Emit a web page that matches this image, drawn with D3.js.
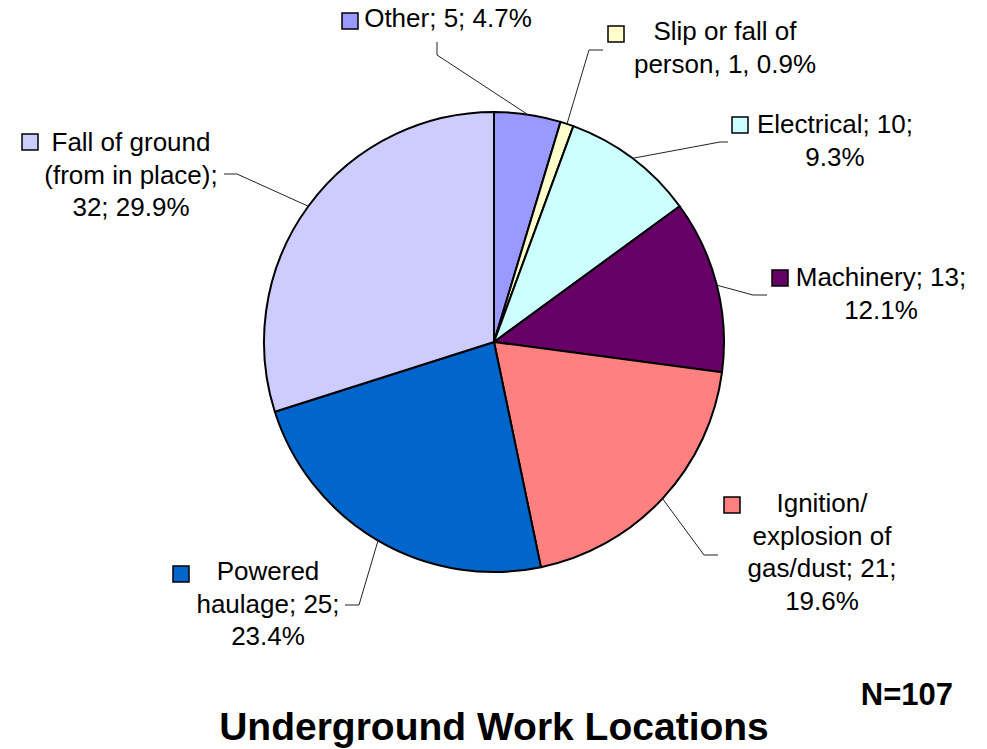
<!DOCTYPE html>
<html>
<head>
<meta charset="utf-8">
<script src="https://cdn.jsdelivr.net/npm/d3@7"></script>
<style>
  body { margin: 0; background: #fff; }
  text { font-family: "Liberation Sans", Arial, sans-serif; fill: #000; }
</style>
</head>
<body>
<script>
//data of the chart
var categories = ["Other", "Slip or fall of person", "Electrical", "Machinery",
    "Ignition/ explosion of gas/dust", "Powered haulage", "Fall of ground (from in place)"];
var counts = [5, 1, 10, 13, 21, 25, 32];
var colors = ["#9999FF", "#FFFFCC", "#CCFFFF", "#660066", "#FF8080", "#0066CC", "#CCCCFF"];
var labelLines = [
    ["Other; 5; 4.7%"],
    ["Slip or fall of", "person, 1, 0.9%"],
    ["Electrical; 10;", "9.3%"],
    ["Machinery; 13;", "12.1%"],
    ["Ignition/", "explosion of", "gas/dust; 21;", "19.6%"],
    ["Powered", "haulage; 25;", "23.4%"],
    ["Fall of ground", "(from in place);", "32; 29.9%"]
];
var title = "Underground Work Locations";
var note = "N=107";

//properties of the screen
var widthScr = 987;
var heightScr = 749;
var cx = 494, cy = 342, radius = 230;
var lineH = 32.7;

//where the labels sit (manual placement, like the original)
var labelLayout = [
    {x: 448, y: 27, sq: [342, 13], leader: [[437, 55], [437, 42]]},
    {x: 725, y: 40, sq: [608, 26], leader: [[589, 50], [603, 50]]},
    {x: 835, y: 133, sq: [732, 117], leader: [[720, 142], [728, 142]]},
    {x: 881, y: 286, sq: [772, 270], leader: [[753, 295], [767, 295]]},
    {x: 822, y: 512, sq: [724, 497], leader: [[704, 555], [718, 555]]},
    {x: 268, y: 580, sq: [173, 566], leader: [[359, 605], [345, 605]]},
    {x: 131, y: 151, sq: [22, 134], leader: [[237, 174], [224, 174]]}
];

var svg = d3.select("body").append("svg")
    .attr("width", widthScr)
    .attr("height", heightScr);

var pie = d3.pie().sort(null).value(function(d) { return d; });
var arcs = pie(counts);
var arc = d3.arc().innerRadius(0).outerRadius(radius);
var edge = d3.arc().innerRadius(radius).outerRadius(radius);

var g = svg.append("g").attr("transform", "translate(" + cx + "," + cy + ")");

g.selectAll("path.slice")
    .data(arcs)
    .enter().append("path")
    .attr("class", "slice")
    .attr("d", arc)
    .attr("fill", function(d, i) { return colors[i]; })
    .attr("stroke", "#000")
    .attr("stroke-width", 2)
    .attr("stroke-linejoin", "round");

//leader lines from the middle of each arc
var line = d3.line();
svg.selectAll("path.leader")
    .data(arcs)
    .enter().append("path")
    .attr("class", "leader")
    .attr("d", function(d, i) {
        var c = edge.centroid(d);
        var pts = [[c[0] + cx, c[1] + cy]].concat(labelLayout[i].leader);
        return line(pts);
    })
    .attr("fill", "none")
    .attr("stroke", "#222")
    .attr("stroke-width", 1);

//labels
labelLines.forEach(function(lines, i) {
    var L = labelLayout[i];
    svg.append("rect")
        .attr("x", L.sq[0])
        .attr("y", L.sq[1])
        .attr("width", 16)
        .attr("height", 16)
        .attr("fill", colors[i])
        .attr("stroke", "#000")
        .attr("stroke-width", 1.5);
    var t = svg.append("text")
        .attr("text-anchor", "middle")
        .attr("font-size", 26);
    lines.forEach(function(s, j) {
        t.append("tspan")
            .attr("x", L.x)
            .attr("y", L.y + j * lineH)
            .text(s);
    });
});

svg.append("text")
    .attr("x", 953)
    .attr("y", 705)
    .attr("text-anchor", "end")
    .attr("font-size", 31)
    .attr("font-weight", "bold")
    .text(note);

svg.append("text")
    .attr("x", cx)
    .attr("y", 740)
    .attr("text-anchor", "middle")
    .attr("font-size", 39)
    .attr("font-weight", "bold")
    .text(title);
</script>
</body>
</html>
